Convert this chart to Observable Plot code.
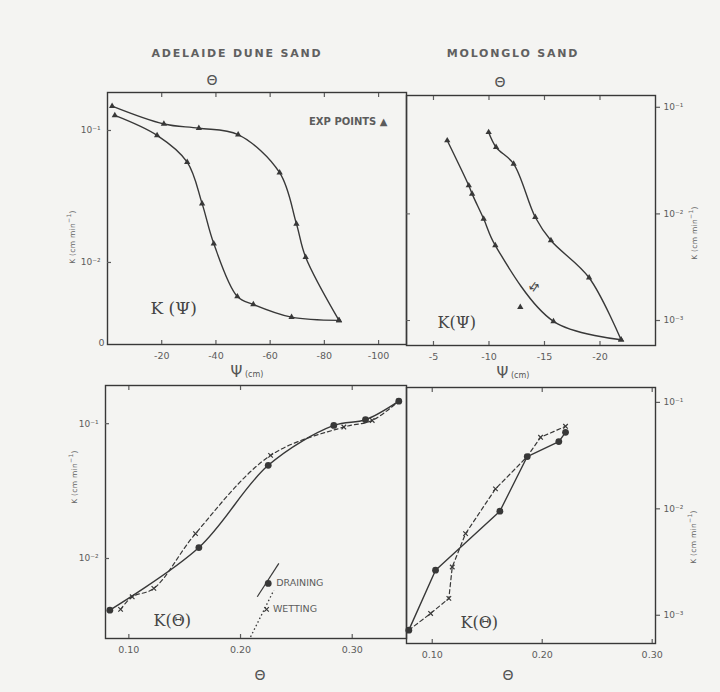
<!DOCTYPE html>
<html>
<head>
<meta charset="utf-8">
<script src="https://cdn.jsdelivr.net/npm/d3@7"></script>
<script src="https://cdn.jsdelivr.net/npm/@observablehq/plot@0.6"></script>
<style>
  body { margin: 0; background: #f4f4f2; }
  #fig { position: relative; width: 720px; height: 692px; overflow: hidden; background: #f4f4f2; }
  #fig svg { position: absolute; left: 0; top: 0; }
  .t { position: absolute; transform: translate(-50%, -50%); white-space: nowrap; color: #555;
       font-family: "DejaVu Sans", sans-serif; }
  .title { font-size: 11px; font-weight: 600; letter-spacing: 1.8px; color: #606060; }
  .theta { font-size: 14px; color: #555; }
  .psi { font-size: 15px; color: #555; }
  .psi small { font-size: 8px; }
  .ytitle { font-size: 7.5px; color: #666; transform: translate(-50%, -50%) rotate(-90deg); letter-spacing: 0.3px; }
  .ytitle sup { font-size: 6px; }
</style>
</head>
<body>
<div id="fig">
  <div class="t title" style="left:237px;top:53px">ADELAIDE DUNE SAND</div>
  <div class="t title" style="left:513px;top:53px">MOLONGLO SAND</div>
  <div class="t theta" style="left:212px;top:80px">Θ</div>
  <div class="t theta" style="left:500px;top:82px">Θ</div>
  <div class="t psi" style="left:247px;top:372px">Ψ<small> (cm)</small></div>
  <div class="t psi" style="left:513px;top:373px">Ψ<small> (cm)</small></div>
  <div class="t theta" style="left:260px;top:675px">Θ</div>
  <div class="t theta" style="left:508px;top:675px">Θ</div>
  <div class="t ytitle" style="left:71px;top:237px">K (cm min<sup>−1</sup>)</div>
  <div class="t ytitle" style="left:73px;top:477px">K (cm min<sup>−1</sup>)</div>
  <div class="t ytitle" style="left:693px;top:233px">K (cm min<sup>−1</sup>)</div>
  <div class="t ytitle" style="left:692px;top:537px">K (cm min<sup>−1</sup>)</div>
</div>
<script>
// ---------- Adelaide dune sand, K(Ψ) ----------
const adelPsiDrainPsi = [-1.7, -20.8, -33.7, -48.2, -63.5, -69.7, -73.1, -85.4];
const adelPsiDrainK   = [0.153, 0.112, 0.104, 0.093, 0.0479, 0.0196, 0.01096, 0.00364];
const adelPsiWetPsi   = [-2.7, -18.3, -29.4, -34.9, -39.2, -47.9, -53.8, -67.9, -85.4];
const adelPsiWetK     = [0.130, 0.0917, 0.0575, 0.0279, 0.0139, 0.00552, 0.00481, 0.00385, 0.00364];

// ---------- Molonglo sand, K(Ψ) ----------
const molPsiDrainPsi = [-9.97, -10.64, -12.22, -14.17, -15.58, -19.02, -21.9];
const molPsiDrainK   = [0.0583, 0.0422, 0.0295, 0.00931, 0.00563, 0.00252, 0.00066];
const molPsiWetPsi   = [-6.24, -8.18, -8.48, -9.52, -10.57, -15.81, -21.9];
const molPsiWetK     = [0.0488, 0.01845, 0.01542, 0.00899, 0.00506, 0.000982, 0.00066];
const molPsiStrayPsi = [-12.82];
const molPsiStrayK   = [0.001336];

// ---------- Adelaide dune sand, K(Θ) ----------
const adelThDrainTh = [0.0830, 0.1627, 0.2248, 0.2835, 0.3119, 0.3417];
const adelThDrainK  = [0.00414, 0.01205, 0.0491, 0.0971, 0.107, 0.147];
const adelThWetTh   = [0.0926, 0.1030, 0.1224, 0.1597, 0.2269, 0.2925, 0.3179, 0.3417];
const adelThWetK    = [0.00419, 0.0052, 0.0060, 0.0153, 0.0582, 0.0944, 0.1057, 0.147];

// ---------- Molonglo sand, K(Θ) ----------
const molThDrainTh = [0.0787, 0.1030, 0.1615, 0.1864, 0.2151, 0.2212];
const molThDrainK  = [0.000725, 0.00265, 0.0095, 0.031, 0.0428, 0.0523];
const molThWetTh   = [0.0787, 0.0985, 0.1151, 0.1182, 0.1303, 0.1575, 0.1864, 0.1985, 0.2212];
const molThWetK    = [0.000725, 0.00104, 0.00144, 0.00284, 0.00585, 0.0154, 0.031, 0.047, 0.0596];

// ---------- tick values and labels ----------
const psiTicksAdel = [-20, -40, -60, -80, -100];
const psiTicksMol  = [-5, -10, -15, -20];
const thetaTicks   = [0.10, 0.20, 0.30];
const kTicks2      = [0.1, 0.01];
const kTicks3      = [0.1, 0.01, 0.001];
const kTickLabels  = {"0.1": "10⁻¹", "0.01": "10⁻²", "0.001": "10⁻³"};
const textLabels   = {exp: "EXP POINTS ▲", kpsi1: "K (Ψ)", kpsi2: "K(Ψ)", kth1: "K(Θ)", kth2: "K(Θ)",
                      zero: "0", drain: "DRAINING", wet: "WETTING", arrows: "⇵"};

const rows = (xs, ys) => xs.map((x, i) => ({x, y: ys[i]}));
const ink = "#383838", txt = "#5c5c5c";
const kfmt = d => kTickLabels[String(+d.toPrecision(1))] ?? "";
const sans = "'DejaVu Sans', sans-serif";
const serif = "'DejaVu Serif', 'Liberation Serif', serif";

function panel(box, opts) {
  return Plot.plot({
    width: 720, height: 692,
    marginLeft: box[0], marginTop: box[1], marginRight: 720 - box[2], marginBottom: 692 - box[3],
    style: {background: "transparent", fontFamily: sans, overflow: "visible"},
    ...opts
  });
}
function xAxes(ticks, fmt) {
  return [
    Plot.axisX({anchor: "bottom", ticks, tickFormat: fmt, tickSize: -4, tickPadding: 12, label: null, color: txt, fontSize: 9.5, strokeWidth: 1.2}),
    Plot.axisX({anchor: "top", ticks, tickFormat: () => "", tickSize: -4, label: null, color: txt, strokeWidth: 1.2})
  ];
}
function yAxisLeft(ticks) {
  return Plot.axisY({anchor: "left", ticks, tickFormat: kfmt, tickSize: -4, tickPadding: 11, label: null, color: txt, fontSize: 9, strokeWidth: 1.2});
}
function yAxisRight(ticks) {
  return Plot.axisY({anchor: "right", ticks, tickFormat: kfmt, tickSize: 4, tickPadding: 4, label: null, color: txt, fontSize: 9, strokeWidth: 1.2});
}
const frame = () => Plot.frame({stroke: ink, strokeWidth: 1.4});
const tri = (d) => Plot.dot(d, {x: "x", y: "y", symbol: "triangle2", r: 3, fill: ink});
const lineOpts = {x: "x", y: "y", stroke: ink, strokeWidth: 1.4};

const fig = document.getElementById("fig");

// Top-left: Adelaide K(Ψ)
const dA1 = rows(adelPsiDrainPsi, adelPsiDrainK), wA1 = rows(adelPsiWetPsi, adelPsiWetK);
fig.appendChild(panel([107, 92, 406, 344], {
  x: {domain: [0, -110.3]},
  y: {type: "log", domain: [0.00239, 0.194]},
  marks: [
    frame(), ...xAxes(psiTicksAdel, d => "-" + Math.abs(d)), yAxisLeft(kTicks2),
    Plot.line(dA1, {...lineOpts, curve: "catmull-rom"}),
    Plot.line(wA1, {...lineOpts, curve: "catmull-rom"}),
    tri(dA1), tri(wA1),
    Plot.text([textLabels.exp], {text: d => d, frameAnchor: "top-right", dx: -19, dy: 25, textAnchor: "end", fontSize: 10, fill: txt, fontWeight: 600}),
    Plot.text([textLabels.kpsi1], {text: d => d, frameAnchor: "bottom-left", dx: 43, dy: -31, textAnchor: "start", fontSize: 17, fontFamily: serif, fill: "#444"}),
    Plot.text([textLabels.zero], {text: d => d, frameAnchor: "bottom-left", dx: -9, dy: 1, fontSize: 9.5, fill: txt})
  ]
}));

// Top-right: Molonglo K(Ψ)
const dM1 = rows(molPsiDrainPsi, molPsiDrainK), wM1 = rows(molPsiWetPsi, molPsiWetK), sM1 = rows(molPsiStrayPsi, molPsiStrayK);
fig.appendChild(panel([406, 95, 655, 345], {
  x: {domain: [-2.57, -25.0]},
  y: {type: "log", domain: [0.000583, 0.129]},
  marks: [
    frame(), ...xAxes(psiTicksMol, d => "-" + Math.abs(d)), yAxisRight(kTicks3),
    Plot.axisY({anchor: "left", ticks: [0.01, 0.001], tickFormat: () => "", tickSize: -4, label: null, color: txt}),
    Plot.line(dM1, {...lineOpts, curve: "catmull-rom"}),
    Plot.line(wM1, {...lineOpts, curve: "catmull-rom"}),
    tri(dM1), tri(wM1), tri(sM1),
    Plot.text([textLabels.kpsi2], {text: d => d, frameAnchor: "bottom-left", dx: 31, dy: -18, textAnchor: "start", fontSize: 16, fontFamily: serif, fill: "#444"}),
    Plot.text([textLabels.arrows], {text: d => d, frameAnchor: "top-left", dx: 126, dy: 185, fontSize: 12, rotate: 35, fill: "#444"})
  ]
}));

// Bottom-left: Adelaide K(Θ)
const dA2 = rows(adelThDrainTh, adelThDrainK), wA2 = rows(adelThWetTh, adelThWetK);
fig.appendChild(panel([105, 385, 406, 638], {
  x: {domain: [0.0791, 0.3486]},
  y: {type: "log", domain: [0.00255, 0.192]},
  marks: [
    frame(), ...xAxes(thetaTicks, d3.format(".2f")), yAxisLeft(kTicks2),
    Plot.line(wA2, {...lineOpts, curve: "catmull-rom", strokeDasharray: "4,3", strokeWidth: 1.2}),
    Plot.line(dA2, {...lineOpts, curve: "catmull-rom"}),
    Plot.dot(wA2, {x: "x", y: "y", symbol: "times", r: 2.2, stroke: ink, strokeWidth: 1.2}),
    Plot.dot(dA2, {x: "x", y: "y", r: 3.4, fill: ink}),
    // legend
    Plot.link([{x1: 0.2150, y1: 0.0052, x2: 0.2343, y2: 0.00919}], {x1: "x1", y1: "y1", x2: "x2", y2: "y2", stroke: ink, strokeWidth: 1.2}),
    Plot.link([{x1: 0.2090, y1: 0.00262, x2: 0.2298, y2: 0.00582}], {x1: "x1", y1: "y1", x2: "x2", y2: "y2", stroke: ink, strokeWidth: 1.3, strokeDasharray: "1.5,2.5"}),
    Plot.dot([{x: 0.2248, y: 0.00653}], {x: "x", y: "y", r: 3.4, fill: ink}),
    Plot.dot([{x: 0.2233, y: 0.00419}], {x: "x", y: "y", symbol: "times", r: 2.2, stroke: ink, strokeWidth: 1.2}),
    Plot.text([{x: 0.2320, y: 0.00653, t: textLabels.drain}], {x: "x", y: "y", text: "t", textAnchor: "start", fontSize: 9.5, fill: txt}),
    Plot.text([{x: 0.2290, y: 0.00419, t: textLabels.wet}], {x: "x", y: "y", text: "t", textAnchor: "start", fontSize: 9.5, fill: txt}),
    Plot.text([textLabels.kth1], {text: d => d, frameAnchor: "bottom-left", dx: 48, dy: -13, textAnchor: "start", fontSize: 16, fontFamily: serif, fill: "#444"})
  ]
}));

// Bottom-right: Molonglo K(Θ)
const dM2 = rows(molThDrainTh, molThDrainK), wM2 = rows(molThWetTh, molThWetK);
fig.appendChild(panel([406, 387, 655, 643], {
  x: {domain: [0.0766, 0.303]},
  y: {type: "log", domain: [0.000543, 0.138]},
  marks: [
    frame(), ...xAxes(thetaTicks, d3.format(".2f")), yAxisRight(kTicks3),
    Plot.line(wM2, {...lineOpts, strokeDasharray: "4,3", strokeWidth: 1.2}),
    Plot.line(dM2, {...lineOpts}),
    Plot.dot(wM2, {x: "x", y: "y", symbol: "times", r: 2.2, stroke: ink, strokeWidth: 1.2}),
    Plot.dot(dM2, {x: "x", y: "y", r: 3.4, fill: ink}),
    Plot.text([textLabels.kth2], {text: d => d, frameAnchor: "bottom-left", dx: 54, dy: -16, textAnchor: "start", fontSize: 16, fontFamily: serif, fill: "#444"})
  ]
}));
</script>
</body>
</html>
